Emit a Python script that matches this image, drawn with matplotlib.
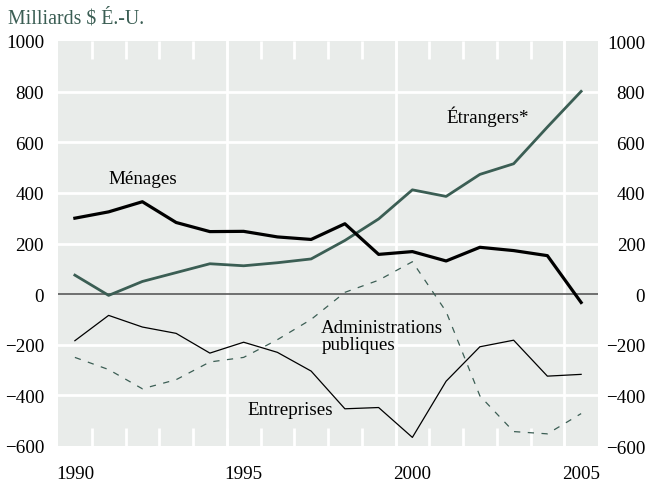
import numpy as np
import matplotlib
matplotlib.use("Agg")
import matplotlib.pyplot as plt

plt.rcParams["font.family"] = ["Liberation Serif", "DejaVu Serif"]

years = list(range(1990, 2006))
menages = [300, 325, 365, 283, 247, 248, 226, 216, 278, 157, 168, 131, 185, 172, 152, -33]
etrangers = [75, -5, 50, 85, 120, 112, 124, 139, 212, 297, 412, 386, 473, 515, 660, 801]
entreprises = [-184, -84, -130, -155, -233, -190, -230, -304, -453, -448, -566, -344, -208, -182, -324, -317]
administrations = [-250, -298, -374, -338, -268, -250, -180, -100, 7, 55, 128, -69, -402, -543, -552, -472]
y_ticks = [-600, -400, -200, 0, 200, 400, 600, 800, 1000]

green = "#3b5e54"
bg = "#e9ecea"

fig = plt.figure(figsize=(6.47, 4.85), dpi=100)
ax = fig.add_axes([58 / 647, 38 / 485, 540 / 647, 405 / 485])
ax.set_facecolor(bg)

# points sit in the middle of each year
xs = np.array(years) + 0.5

for y in y_ticks[1:-1]:
    if y == 0:
        ax.axhline(0, color="#5a5a5a", lw=1.2, zorder=2)
    else:
        ax.axhline(y, color="white", lw=2, zorder=1)
for yr in [1995, 2000, 2005]:
    ax.axvline(yr, color="white", lw=2, zorder=1)

ax.plot(xs, administrations, color=green, lw=0.9, dashes=(5, 6), zorder=3)
ax.plot(xs, entreprises, color="black", lw=0.9, zorder=3)
ax.plot(xs, etrangers, color=green, lw=2.0, zorder=4)
ax.plot(xs, menages, color="black", lw=2.3, zorder=5)

fs = 13.7
ax.set_xlim(1990, 2006)
ax.set_ylim(-600, 1000)
ax.set_xticks([1990.5, 1995.5, 2000.5, 2005.5])
ax.set_xticklabels(["1990", "1995", "2000", "2005"])
ax.set_xticks(range(1991, 2006), minor=True)
ax.set_yticks(y_ticks)
ax.tick_params(axis="x", which="major", length=0, pad=14, labelsize=fs)
ax.tick_params(axis="x", which="minor", direction="in", length=13, width=2,
               color="white", top=True, bottom=True)
ax.tick_params(axis="y", length=0, pad=10, labelsize=fs)
for s in ax.spines.values():
    s.set_visible(False)

ax2 = ax.twinx()
ax2.set_ylim(-600, 1000)
ax2.set_yticks(y_ticks)
ax2.tick_params(axis="y", length=0, pad=34, labelsize=fs)
for lab in ax2.get_yticklabels():
    lab.set_horizontalalignment("right")
for s in ax2.spines.values():
    s.set_visible(False)

ax.text(1991.5, 455, "Ménages", fontsize=fs, va="center")
ax.text(2001.5, 703, "Étrangers*", fontsize=fs, va="center")
ax.text(1997.8, -165, "Administrations\npubliques", fontsize=fs, va="center",
        linespacing=1.0)
ax.text(1995.6, -455, "Entreprises", fontsize=fs, va="center")

fig.text(8 / 647, 1 - 19 / 485, "Milliards $ É.-U.", fontsize=14.3, color=green,
         va="center")

fig.savefig("out.png", dpi=100)
